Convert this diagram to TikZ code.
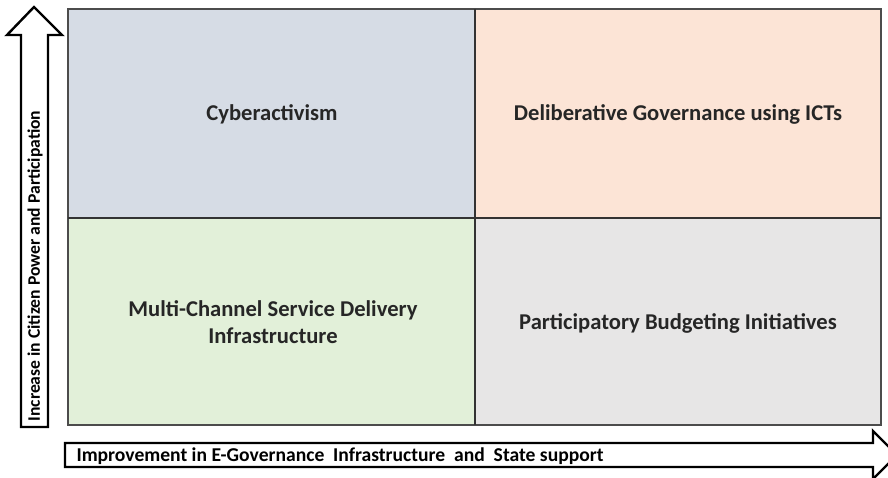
\documentclass[tikz,border=0pt]{standalone}
\usepackage{fontspec}
\setmainfont{Carlito}
\begin{document}
\begin{tikzpicture}[x=1pt,y=-1pt,
  quad/.style={draw=black!70,line width=1.2pt},
  lbl/.style={font=\bfseries\fontsize{22.6}{27}\selectfont,text=black!85,align=center},
  axisarrow/.style={draw=black,line width=2.4pt,fill=white,line join=miter},
  axislbl/.style={font=\bfseries\fontsize{#1}{22}\selectfont,text=black},
  axislbl/.default=18]
\clip (0,0) rectangle (888,478);
\useasboundingbox (0,0) rectangle (888,478);
\definecolor{qblue}{HTML}{D6DCE5}
\definecolor{qpeach}{HTML}{FCE4D6}
\definecolor{qgreen}{HTML}{E2F0D9}
\definecolor{qgray}{HTML}{E7E6E6}
% quadrants
\fill[qblue] (68,9) rectangle (475,218);
\fill[qpeach] (475,9) rectangle (881,218);
\fill[qgreen] (68,218) rectangle (475,425);
\fill[qgray] (475,218) rectangle (881,425);
\draw[quad] (68,9) rectangle (881,425);
\draw[quad,draw=black!80] (475,9) -- (475,425);
\draw[quad,draw=black!80] (68,218) -- (881,218);
% labels
\node[lbl] (q1) at (272,114) {Cyberactivism};
\node[lbl] (q2) at (678,114) {Deliberative Governance using ICTs};
\node[lbl] (q3) at (273,322) {Multi-Channel Service Delivery\\Infrastructure};
\node[lbl] (q4) at (678,323) {Participatory Budgeting Initiatives};
% vertical arrow
\draw[axisarrow] (21,427) -- (21,35) -- (7,35) -- (34,7) -- (62,35) -- (48,35) -- (48,427) -- cycle;
\node[axislbl=17.6,rotate=90] (ya) at (35,266) {Increase in Citizen Power and Participation};
% horizontal arrow
\draw[axisarrow] (65,443) -- (873,443) -- (873,431) -- (897,455) -- (873,479) -- (873,467) -- (65,467) -- cycle;
\node[axislbl=19.6,anchor=west] (xa) at (73,456) {Improvement in E-Governance\ \ Infrastructure\ \ and\ \ State support};
\end{tikzpicture}
\end{document}
